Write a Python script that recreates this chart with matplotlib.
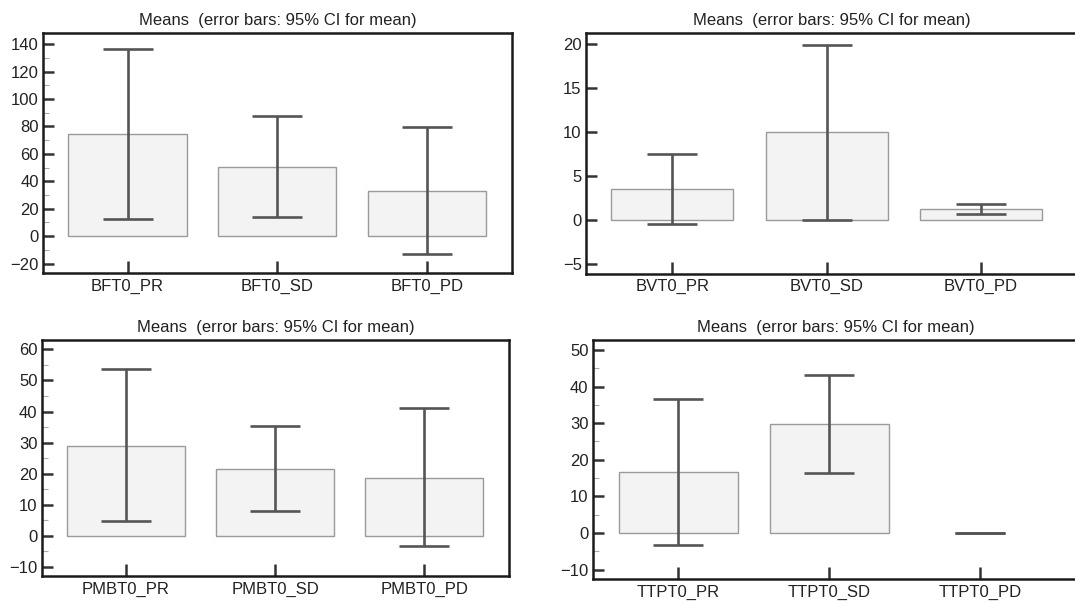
import matplotlib
matplotlib.use("Agg")
import matplotlib.pyplot as plt
from matplotlib.ticker import MultipleLocator

plt.rcParams["font.family"] = ["Liberation Sans", "DejaVu Sans"]

title = "Means  (error bars: 95% CI for mean)"

# ---------------- DATA ----------------

bft_labels = ["BFT0_PR", "BFT0_SD", "BFT0_PD"]
bft_mean = [74.4, 50.7, 32.9]
bft_low = [12.8, 13.7, -12.7]
bft_high = [136.1, 87.3, 79.3]

bvt_labels = ["BVT0_PR", "BVT0_SD", "BVT0_PD"]
bvt_mean = [3.55, 10.0, 1.2]
bvt_low = [-0.43, -0.05, 0.63]
bvt_high = [7.5, 19.9, 1.8]

pmbt_labels = ["PMBT0_PR", "PMBT0_SD", "PMBT0_PD"]
pmbt_mean = [29.0, 21.6, 18.7]
pmbt_low = [4.7, 7.9, -3.4]
pmbt_high = [53.6, 35.5, 41.1]

ttpt_labels = ["TTPT0_PR", "TTPT0_SD", "TTPT0_PD"]
ttpt_mean = [16.7, 29.7, 0.0]
ttpt_low = [-3.3, 16.4, 0.0]
ttpt_high = [36.7, 43.2, 0.0]


# ---------------- PANEL ----------------

def panel(fig, rect, labels, mean, low, high, ylim, xlim, major, minor):
    ax = fig.add_axes(rect)
    x = list(range(len(labels)))

    for i in x:
        ax.bar(i, mean[i], width=0.79, color="#f3f3f3",
               edgecolor="#9a9a9a" if mean[i] != 0 else "none",
               linewidth=1.0, zorder=1)

    err = [[m - l for m, l in zip(mean, low)], [h - m for m, h in zip(mean, high)]]
    ax.errorbar(x, mean, yerr=err, fmt="none", ecolor="#555555",
                elinewidth=1.9, capsize=18, capthick=1.9, zorder=2)

    ax.set_xlim(*xlim)
    ax.set_ylim(*ylim)
    ax.set_xticks(x)
    ax.set_xticklabels(labels)
    ax.yaxis.set_major_locator(MultipleLocator(major))

    ax.tick_params(axis="y", which="major", direction="in", length=8,
                   width=1.8, color="#333333", labelsize=12, pad=3,
                   labelcolor="#222222")
    ax.tick_params(axis="x", direction="in", length=9, width=1.8,
                   color="#333333", labelsize=12, pad=4, labelcolor="#222222")
    if minor:
        ax.yaxis.set_minor_locator(MultipleLocator(minor))
        ax.tick_params(axis="y", which="minor", direction="in", length=4,
                       width=0.8, color="#aaaaaa")

    for s in ax.spines.values():
        s.set_linewidth(1.8)
        s.set_color("#1a1a1a")

    ax.set_title(title, fontsize=12, color="#222222", pad=6)
    return ax


fig = plt.figure(figsize=(10.75, 6.03), dpi=100)

panel(fig, [0.040, 0.547, 0.436, 0.398], bft_labels, bft_mean, bft_low, bft_high,
      (-27, 148), (-0.565, 2.567), 20, 10)
panel(fig, [0.545, 0.546, 0.458, 0.399], bvt_labels, bvt_mean, bvt_low, bvt_high,
      (-6.13, 21.2), (-0.56, 2.63), 5, None)
panel(fig, [0.0388, 0.045, 0.4347, 0.391], pmbt_labels, pmbt_mean, pmbt_low, pmbt_high,
      (-12.9, 63), (-0.563, 2.567), 10, 5)
panel(fig, [0.5513, 0.039, 0.452, 0.397], ttpt_labels, ttpt_mean, ttpt_low, ttpt_high,
      (-12.7, 52.7), (-0.567, 2.65), 10, 5)

fig.savefig("out.png", dpi=100)
